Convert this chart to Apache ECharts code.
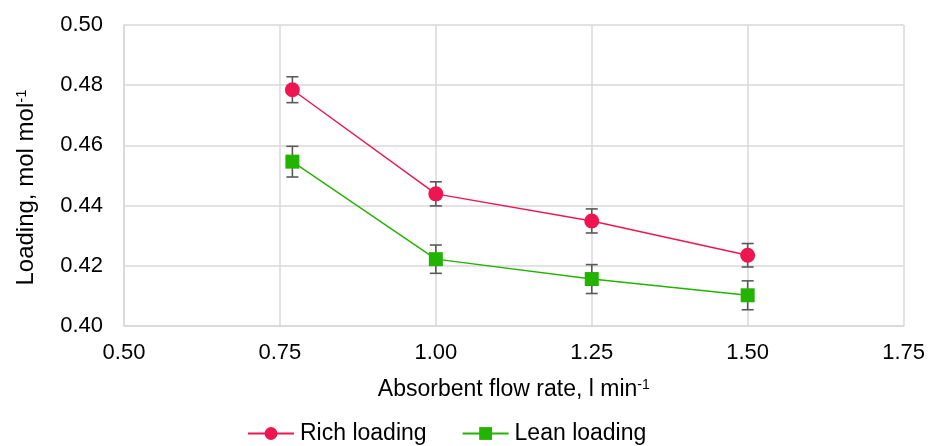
<!DOCTYPE html>
<html><head><meta charset="utf-8">
<script src="https://cdn.jsdelivr.net/npm/echarts@6/dist/echarts.min.js"></script>
<style>html,body{margin:0;padding:0;background:#fff}#c{width:928px;height:446px}</style>
</head><body><div id="c"></div>
<script>
const flowRates = [0.77, 1.00, 1.25, 1.50];
const richLoading = [0.4785, 0.4439, 0.4349, 0.4235];
const richErr = [0.0043, 0.0040, 0.0040, 0.0039];
const leanLoading = [0.4546, 0.4222, 0.4156, 0.4102];
const leanErr = [0.0051, 0.0047, 0.0048, 0.0048];
const xTicks = [0.50, 0.75, 1.00, 1.25, 1.50, 1.75];
const yTicks = [0.40, 0.42, 0.44, 0.46, 0.48, 0.50];

const FONT = '"Liberation Sans", Arial, sans-serif';
const chart = echarts.init(document.getElementById('c'));

function errData(vals, errs) {
  return flowRates.map((x, i) => [x, vals[i] - errs[i], vals[i] + errs[i]]);
}
function errRender(params, api) {
  const x = api.value(0);
  const lo = api.coord([x, api.value(1)]);
  const hi = api.coord([x, api.value(2)]);
  const w = 6;
  const st = { stroke: '#5a5a5a', lineWidth: 1.6 };
  return { type: 'group', children: [
    { type: 'line', shape: { x1: lo[0], y1: lo[1], x2: hi[0], y2: hi[1] }, style: st },
    { type: 'line', shape: { x1: lo[0] - w, y1: lo[1], x2: lo[0] + w, y2: lo[1] }, style: st },
    { type: 'line', shape: { x1: hi[0] - w, y1: hi[1], x2: hi[0] + w, y2: hi[1] }, style: st }
  ]};
}

chart.setOption({
  animation: false,
  textStyle: { fontFamily: FONT },
  grid: { left: 124, right: 24, top: 25, bottom: 120, containLabel: false },
  xAxis: {
    type: 'value', min: xTicks[0], max: xTicks[xTicks.length - 1], interval: 0.25,
    name: '{n|Absorbent flow rate, l min}{s|-1}',
    nameLocation: 'middle', nameGap: 52,
    nameTextStyle: { rich: {
      n: { fontSize: 23, fontFamily: FONT, color: '#000' },
      s: { fontSize: 14, fontFamily: FONT, color: '#000', verticalAlign: 'top' } } },
    axisLine: { lineStyle: { color: '#d9d9d9', width: 1.5 } },
    axisTick: { show: false },
    splitLine: { show: true, lineStyle: { color: '#d9d9d9', width: 1.5 } },
    axisLabel: { fontSize: 22, color: '#000', fontFamily: FONT, margin: 16, formatter: v => v.toFixed(2) }
  },
  yAxis: {
    type: 'value', min: yTicks[0], max: yTicks[yTicks.length - 1], interval: 0.02,
    name: '{n|Loading, mol mol}{s|-1}',
    nameLocation: 'middle', nameGap: 86, nameRotate: 90,
    nameTextStyle: { padding: [0, 24, 0, 0], rich: {
      n: { fontSize: 24, fontFamily: FONT, color: '#000' },
      s: { fontSize: 15, fontFamily: FONT, color: '#000', verticalAlign: 'top' } } },
    axisLine: { show: true, lineStyle: { color: '#d9d9d9', width: 1.5 } },
    axisTick: { show: false },
    splitLine: { show: true, lineStyle: { color: '#d9d9d9', width: 1.5 } },
    axisLabel: { fontSize: 22, color: '#000', fontFamily: FONT, margin: 21, formatter: v => v.toFixed(2) }
  },
  legend: {
    top: 417, left: 242, itemWidth: 46, itemHeight: 16, itemGap: 35,
    textStyle: { fontSize: 23, color: '#000', fontFamily: FONT, padding: [0, 0, 0, 1] },
    data: ['Rich loading', 'Lean loading']
  },
  series: [
    { type: 'custom', name: 'richErr', renderItem: errRender, data: errData(richLoading, richErr), z: 1, silent: true },
    { type: 'custom', name: 'leanErr', renderItem: errRender, data: errData(leanLoading, leanErr), z: 1, silent: true },
    { type: 'line', name: 'Rich loading', data: flowRates.map((x, i) => [x, richLoading[i]]),
      symbol: 'circle', symbolSize: 15, z: 3,
      lineStyle: { color: '#ee1650', width: 1.4 }, itemStyle: { color: '#ee1650' } },
    { type: 'line', name: 'Lean loading', data: flowRates.map((x, i) => [x, leanLoading[i]]),
      symbol: 'rect', symbolSize: 14, z: 3,
      lineStyle: { color: '#22b400', width: 1.4 }, itemStyle: { color: '#22b400' } }
  ]
});
</script></body></html>
